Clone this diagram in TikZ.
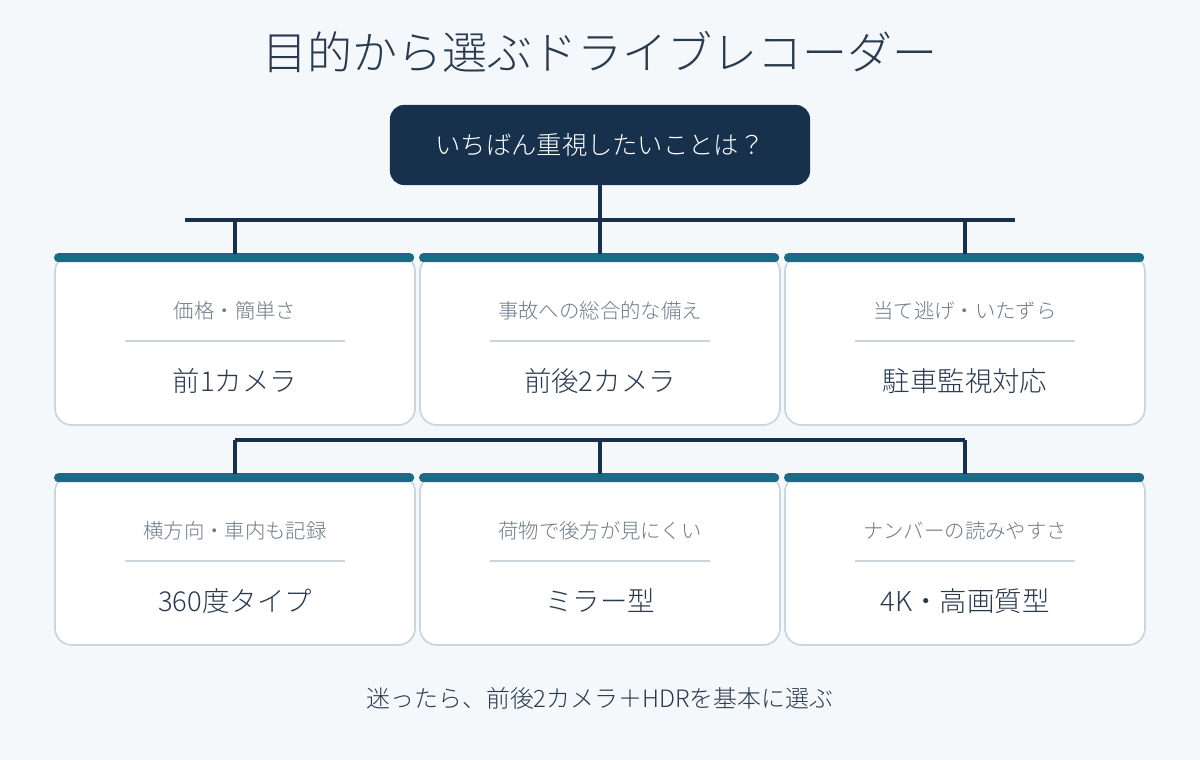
\documentclass[tikz,border=0pt]{standalone}
\usepackage{fontspec}
\setmainfont{Noto Sans CJK JP}[UprightFont=* Light]
\usetikzlibrary{positioning}
\definecolor{bgcol}{HTML}{F4F8FB}
\definecolor{navy}{HTML}{17314D}
\definecolor{teal}{HTML}{1B6A86}
\definecolor{edge}{HTML}{CBD5DE}
\definecolor{subgray}{HTML}{6E7A88}
\definecolor{maintxt}{HTML}{2A3A4E}
\tikzset{
  card/.style={draw=edge, line width=1.2pt, fill=white, rounded corners=12pt,
    minimum width=9cm, minimum height=4.25cm, inner sep=0pt},
  sub/.style={text=subgray, font=\fontsize{14.5}{16}\selectfont},
  main/.style={text=maintxt, font=\fontsize{19.5}{21}\selectfont},
  link/.style={draw=navy, line width=2.3pt},
}
\begin{document}
\begin{tikzpicture}[x=0.025cm, y=-0.025cm]
\fill[bgcol] (0,0) rectangle (1200,760);

\node[text=maintxt, font=\fontsize{32}{34}\selectfont] (title) at (600,52) {目的から選ぶドライブレコーダー};
\node[fill=navy, rounded corners=10pt, minimum width=10.5cm, minimum height=2cm,
  text=white, font=\fontsize{18}{20}\selectfont] (top) at (600,145) {いちばん重視したいことは？};

% rows of cards
\foreach \i/\cx/\cy/\s/\m in {
  a/235/340/価格・簡単さ/前1カメラ,
  b/600/340/事故への総合的な備え/前後2カメラ,
  c/965/340/当て逃げ・いたずら/駐車監視対応,
  d/235/560/横方向・車内も記録/360度タイプ,
  e/600/560/荷物で後方が見にくい/ミラー型,
  f/965/560/ナンバーの読みやすさ/4K・高画質型} {
  \node[card] (\i) at (\cx,\cy) {};
  \fill[teal, rounded corners=3pt] (\i.north west) ++(0,-1) rectangle ++(360,9);
  \node[sub] (\i s) at (\cx,\cy-29) {\s};
  \draw[edge, line width=1pt] (\cx-110,\cy+1) -- (\cx+110,\cy+1);
  \node[main] (\i m) at (\cx,\cy+41) {\m};
}

% connectors
\coordinate (hub) at (600,220);
\coordinate (hl) at (185,220);
\coordinate (hr) at (1015,220);
\draw[link] (top.south) -- (hub);
\draw[link] (hl) -- (hr);
\foreach \i in {a,b,c} \draw[link] (\i.north |- hub) -- (\i.north);
\coordinate (low) at (600,440);
\draw[link] (d.north |- low) -- (f.north |- low);
\foreach \i in {d,e,f} \draw[link] (\i.north |- low) -- (\i.north);

\node[text=maintxt, font=\fontsize{17}{19}\selectfont] (foot) at (600,698) {迷ったら、前後2カメラ＋HDRを基本に選ぶ};
\end{tikzpicture}
\end{document}
